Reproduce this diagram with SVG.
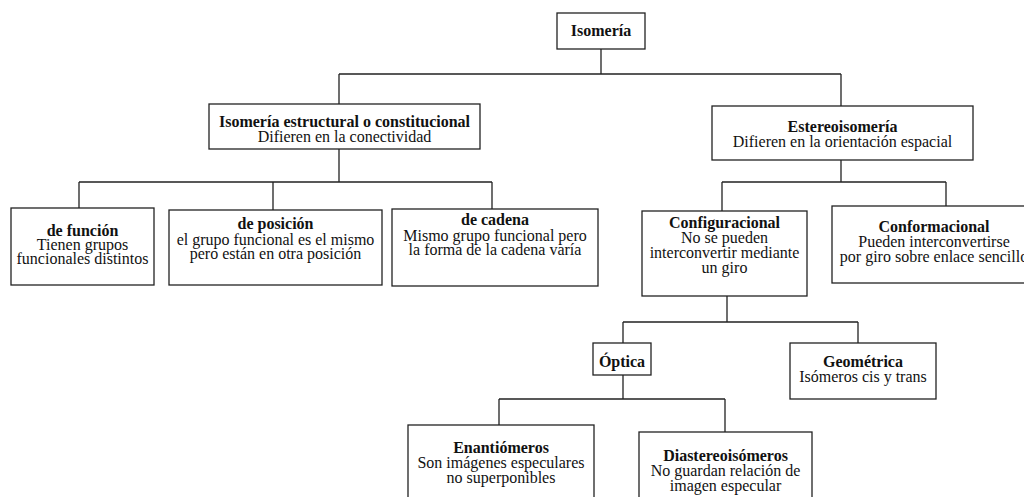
<svg xmlns="http://www.w3.org/2000/svg" width="1024" height="497" viewBox="0 0 1024 497">
<style>
.box{fill:#fff;stroke:#222;stroke-width:1.3}
.c{fill:none;stroke:#222;stroke-width:1.3}
text{font-family:"Liberation Serif","Times New Roman",serif;font-size:16px;fill:#111;text-anchor:middle}
.b{font-weight:bold}
</style>
<rect width="1024" height="497" fill="#fff"/>
<g id="connectors">
<path class="c" d="M601 49V74M339 74H841M339 74V104M841 74V106"/>
<path class="c" d="M339 149V182M79 182H492M79 182V208M273 182V210M492 182V209"/>
<path class="c" d="M841 160V182M722 182H946M722 182V211M946 182V206"/>
<path class="c" d="M727 296V322M623 322H858M623 322V343M858 322V343"/>
<path class="c" d="M623 375V399M499 399H725M499 399V425M725 399V432"/>
</g>
<g id="isomeria"><rect class="box" x="557" y="13" width="88" height="36"/><text class="b" x="601" y="36">Isomería</text></g>
<g id="estructural"><rect class="box" x="209" y="104" width="271" height="45"/><text class="b" x="344.5" y="127">Isomería estructural o constitucional</text><text x="344.5" y="142">Difieren en la conectividad</text></g>
<g id="estereo"><rect class="box" x="712" y="106" width="261" height="54"/><text class="b" x="842.5" y="132">Estereoisomería</text><text x="842.5" y="147">Difieren en la orientación espacial</text></g>
<g id="funcion"><rect class="box" x="11" y="208" width="143" height="77"/><text class="b" x="82.5" y="236">de función</text><text x="82.5" y="250">Tienen grupos</text><text x="82.5" y="264">funcionales distintos</text></g>
<g id="posicion"><rect class="box" x="169" y="210" width="213" height="75"/><text class="b" x="275.5" y="229">de posición</text><text x="275.5" y="245">el grupo funcional es el mismo</text><text x="275.5" y="259">pero están en otra posición</text></g>
<g id="cadena"><rect class="box" x="392" y="209" width="206" height="77"/><text class="b" x="495" y="225">de cadena</text><text x="495" y="241">Mismo grupo funcional pero</text><text x="495" y="255">la forma de la cadena varía</text></g>
<g id="configuracional"><rect class="box" x="642" y="211" width="165" height="85"/><text class="b" x="724.5" y="228">Configuracional</text><text x="724.5" y="243">No se pueden</text><text x="724.5" y="258">interconvertir mediante</text><text x="724.5" y="273">un giro</text></g>
<g id="conformacional"><rect class="box" x="832" y="206" width="204" height="77"/><text class="b" x="934" y="232">Conformacional</text><text x="934" y="247">Pueden interconvertirse</text><text x="934" y="262">por giro sobre enlace sencillo</text></g>
<g id="optica"><rect class="box" x="593" y="343" width="58" height="32"/><text class="b" x="622" y="367">Óptica</text></g>
<g id="geometrica"><rect class="box" x="790" y="343" width="146" height="56"/><text class="b" x="863" y="367">Geométrica</text><text x="863" y="382">Isómeros cis y trans</text></g>
<g id="enantiomeros"><rect class="box" x="408" y="425" width="186" height="80"/><text class="b" x="501" y="453">Enantiómeros</text><text x="501" y="468">Son imágenes especulares</text><text x="501" y="483">no superponibles</text></g>
<g id="diastereoisomeros"><rect class="box" x="639" y="432" width="173" height="73"/><text class="b" x="725.5" y="461">Diastereoisómeros</text><text x="725.5" y="476">No guardan relación de</text><text x="725.5" y="491">imagen especular</text></g>
</svg>
